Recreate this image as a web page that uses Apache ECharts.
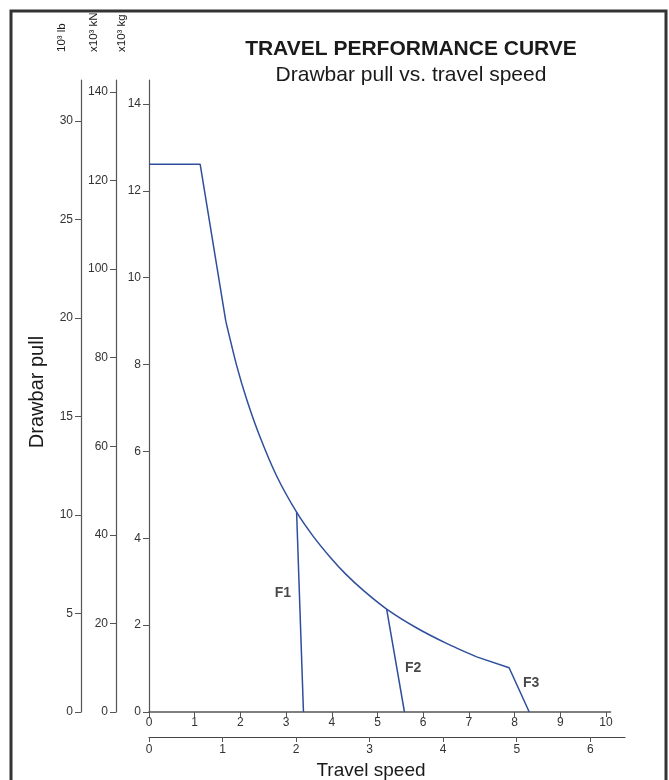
<!DOCTYPE html>
<html><head><meta charset="utf-8">
<script src="https://cdn.jsdelivr.net/npm/echarts@6/dist/echarts.min.js"></script>
<style>html,body{margin:0;padding:0;background:#fff}#c{width:669px;height:780px}</style>
</head><body><div id="c"></div><script>
// ---- data ----
const speedKmhTicks = [0,1,2,3,4,5,6,7,8,9,10];
const speedMphTicks = [0,1,2,3,4,5,6];
const pullKgTicks = [0,2,4,6,8,10,12,14];
const pullKnTicks = [0,20,40,60,80,100,120,140];
const pullLbTicks = [0,5,10,15,20,25,30];
// drawbar pull (x10^3 kg) vs travel speed (km/h)
const flatAndDrop = [[0,12.61],[1.12,12.61],[1.68,9.0]];
const hyperCurve = [[1.68,9.0],[1.92,7.97],[2.14,7.19],[2.43,6.33],[2.79,5.44],[3.23,4.60],[3.59,4.05],[3.96,3.57],[4.30,3.18],[4.69,2.80],[5.20,2.37],[5.85,1.94],[6.51,1.58],[7.17,1.27]];
const gearF3 = [[7.17,1.27],[7.88,1.02],[8.32,0]];
const gearF1 = [[3.23,4.60],[3.38,0]];
const gearF2 = [[5.20,2.37],[5.59,0]];
const gearNames = ['F1','F2','F3'];
const gearLabelAt = [[2.93,2.74],[5.78,1.01],[8.36,0.67]];

// ---- layout ----
const KN_PER_TKG = 9.80665, TLB_PER_TKG = 1/0.45359237, KMH_PER_MPH = 1.609344;
const gLeft = 149, gTop = 80, gH = 632, pxPerKg = 43.43;
const kgMax = gH / pxPerKg;
const kmMax = 10.1, pxPerKm = 45.7, gW = kmMax * pxPerKm;
const g2W = 476, mphMax = g2W / (pxPerKm * KMH_PER_MPH);
const FONT = 'Liberation Sans, Arial, Helvetica, sans-serif';
const axisCol = '#555', txtCol = '#333';
const lineCol = '#2f4f9c';

function yAx(max, ticks, offset) {
  return {
    type: 'value', gridIndex: 0, position: 'left', offset: offset, min: 0, max: max,
    splitLine: {show: false},
    axisLine: {show: true, onZero: false, lineStyle: {color: axisCol, width: 1.2}},
    axisTick: {show: true, length: 6, customValues: ticks, lineStyle: {color: axisCol, width: 1}},
    axisLabel: {customValues: ticks, margin: 8, color: txtCol, fontSize: 12, fontFamily: FONT}
  };
}
function lineSeries(data, smooth) {
  return {type: 'line', xAxisIndex: 0, yAxisIndex: 0, data: data, symbol: 'none',
    smooth: smooth || false,
    lineStyle: {color: lineCol, width: 1.5}, clip: false};
}

const chart = echarts.init(document.getElementById('c'), null, {renderer: 'canvas'});
chart.setOption({
  animation: false,
  backgroundColor: '#fff',
  grid: [
    {left: gLeft, top: gTop, width: gW, height: gH, containLabel: false},
    {left: gLeft, top: 736, width: g2W, height: 1, containLabel: false}
  ],
  xAxis: [
    {type: 'value', gridIndex: 0, min: 0, max: kmMax, position: 'bottom',
      splitLine: {show: false},
      axisLine: {show: true, onZero: false, lineStyle: {color: axisCol, width: 1.5}},
      axisTick: {show: true, length: 5, customValues: speedKmhTicks, lineStyle: {color: axisCol}},
      axisLabel: {customValues: speedKmhTicks, margin: 5, color: txtCol, fontSize: 12, fontFamily: FONT}},
    {type: 'value', gridIndex: 1, min: 0, max: mphMax, position: 'bottom',
      splitLine: {show: false},
      axisLine: {show: true, onZero: false, lineStyle: {color: '#444', width: 1.2}},
      axisTick: {show: true, length: 5, customValues: speedMphTicks, lineStyle: {color: axisCol}},
      axisLabel: {customValues: speedMphTicks, margin: 7, color: txtCol, fontSize: 12, fontFamily: FONT}}
  ],
  yAxis: [
    yAx(kgMax, pullKgTicks, 0),
    yAx(kgMax * KN_PER_TKG, pullKnTicks, 33),
    yAx(kgMax * TLB_PER_TKG, pullLbTicks, 68),
    {type: 'value', gridIndex: 1, show: false, min: 0, max: 1}
  ],
  series: [
    lineSeries(flatAndDrop),
    lineSeries(hyperCurve, 0.25),
    lineSeries(gearF3),
    lineSeries(gearF1),
    lineSeries(gearF2),
    {type: 'scatter', xAxisIndex: 0, yAxisIndex: 0, symbolSize: 0,
      data: gearLabelAt.map((p, i) => ({value: p, name: gearNames[i]})),
      label: {show: true, position: 'inside', formatter: '{b}', color: '#1a1a1a',
        fontSize: 14, fontWeight: 'bold', fontFamily: FONT}}
  ],
  graphic: [
    {type: 'rect', silent: true, shape: {x: 11, y: 11, width: 655, height: 800},
      style: {fill: 'none', stroke: '#333', lineWidth: 3}},
    {type: 'text', x: 411, y: 49, style: {text: 'TRAVEL PERFORMANCE CURVE', fontSize: 21, fontWeight: 'bold',
      fontFamily: FONT, fill: '#1a1a1a', align: 'center', verticalAlign: 'middle'}},
    {type: 'text', x: 411, y: 75, style: {text: 'Drawbar pull vs. travel speed', fontSize: 21,
      fontFamily: FONT, fill: '#1a1a1a', align: 'center', verticalAlign: 'middle'}},
    {type: 'text', x: 37, y: 392, rotation: Math.PI/2, style: {text: 'Drawbar pull', fontSize: 20,
      fontFamily: FONT, fill: '#1a1a1a', align: 'center', verticalAlign: 'middle'}},
    {type: 'text', x: 371, y: 771, style: {text: 'Travel speed', fontSize: 19,
      fontFamily: FONT, fill: '#1a1a1a', align: 'center', verticalAlign: 'middle'}},
    {type: 'text', x: 62, y: 52, rotation: Math.PI/2, style: {text: '10³ lb', fontSize: 11.5,
      fontFamily: FONT, fill: '#1a1a1a', align: 'left', verticalAlign: 'middle'}},
    {type: 'text', x: 94, y: 52, rotation: Math.PI/2, style: {text: 'x10³ kN', fontSize: 11.5,
      fontFamily: FONT, fill: '#1a1a1a', align: 'left', verticalAlign: 'middle'}},
    {type: 'text', x: 122, y: 52, rotation: Math.PI/2, style: {text: 'x10³ kg', fontSize: 11.5,
      fontFamily: FONT, fill: '#1a1a1a', align: 'left', verticalAlign: 'middle'}}
  ]
});
</script></body></html>
